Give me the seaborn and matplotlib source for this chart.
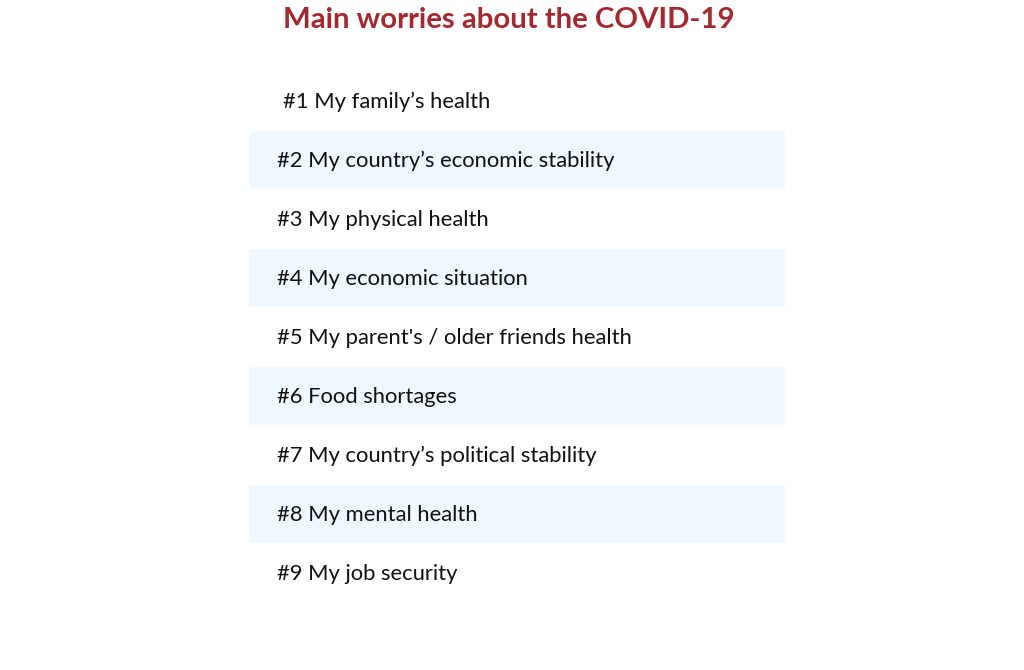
import matplotlib
matplotlib.use("Agg")
import matplotlib.pyplot as plt
import seaborn as sns
import pandas as pd

ranks = ["#1", "#2", "#3", "#4", "#5", "#6", "#7", "#8", "#9"]
worries = [
    "My family’s health",
    "My country’s economic stability",
    "My physical health",
    "My economic situation",
    "My parent's / older friends health",
    "Food shortages",
    "My country’s political stability",
    "My mental health",
    "My job security",
]
title = "Main worries about the COVID-19"

sns.set_theme(style="white")
plt.rcParams["font.family"] = ["Lato", "DejaVu Sans"]

labels = [f"{r} {w}" for r, w in zip(ranks, worries)]
df = pd.DataFrame({"label": labels, "span": [1.0] * len(labels)})
band_colors = ["#FFFFFF" if i % 2 == 0 else "#F0F8FF" for i in range(len(labels))]

fig = plt.figure(figsize=(10.24, 6.7), dpi=100)
ax = fig.add_axes([248 / 1024, 1 - 602 / 670, 537 / 1024, 531 / 670])
sns.barplot(data=df, y="label", x="span", hue="label", palette=band_colors,
            orient="h", width=1.0, legend=False, ax=ax, saturation=1)
ax.set_xlim(0, 1)
ax.set_ylim(len(labels) - 0.5, -0.5)
for i, lab in enumerate(labels):
    xoff = 0.066 if i == 0 else 0.054
    ax.text(xoff, i + 0.03, lab, ha="left", va="center", fontsize=15.8, color="#111111")
ax.set_axis_off()

fig.text(509 / 1024, 1 - 20 / 670, title, ha="center", va="center",
         fontsize=21.2, fontweight="bold", color="#A4282E")

fig.savefig("out.png", dpi=100, facecolor="white")
